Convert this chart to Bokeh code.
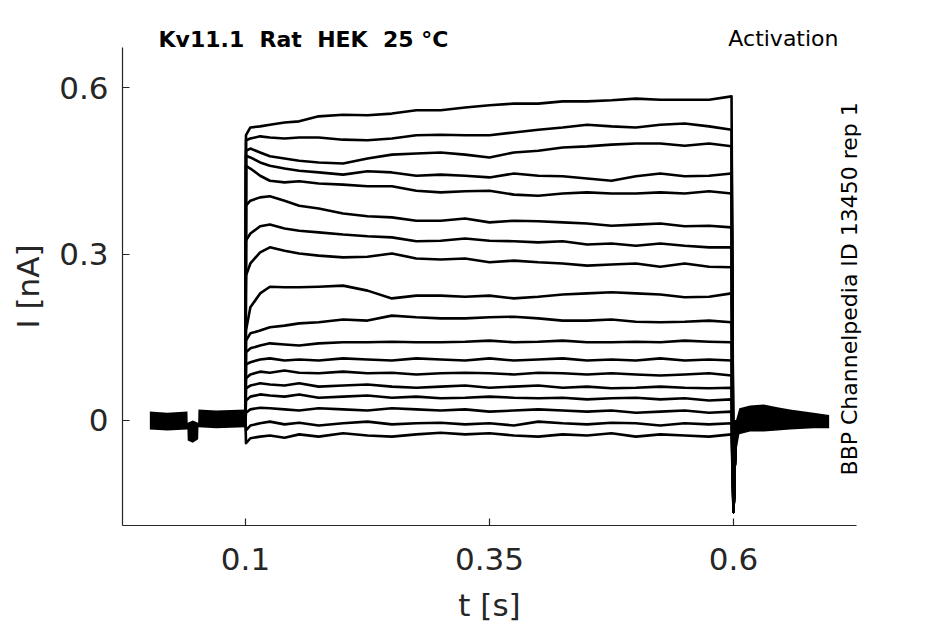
from bokeh.plotting import figure
from bokeh.models import Label, FixedTicker, Range1d
from bokeh.embed import file_html
from bokeh.resources import INLINE

FONT = "DejaVu Sans"
INK = "#262626"

# ---- data ----
T_ON = 0.1          # s, start of test pulse
T_OFF = 0.6         # s, end of test pulse
HOLD = 0.0          # nA, holding current
SPIKE = -0.165      # nA, capacitive transient at pulse end
TAIL_START = 0.6025
TAIL_START_VAL = 0.0

T_PULSE = [0.1005, 0.105, 0.115, 0.125, 0.14, 0.155, 0.175, 0.2, 0.225, 0.25,
           0.275, 0.3, 0.325, 0.35, 0.375, 0.4, 0.425, 0.45, 0.475, 0.5,
           0.525, 0.55, 0.575, 0.598]

trace_01 = [0.514, 0.528, 0.530, 0.533, 0.537, 0.539, 0.548, 0.551, 0.550, 0.553, 0.559, 0.559,
            0.564, 0.568, 0.571, 0.571, 0.575, 0.575, 0.577, 0.580, 0.578, 0.578, 0.578, 0.584]
trace_02 = [0.505, 0.508, 0.512, 0.510, 0.508, 0.510, 0.510, 0.506, 0.505, 0.508, 0.514, 0.515,
            0.514, 0.514, 0.519, 0.524, 0.528, 0.533, 0.530, 0.528, 0.533, 0.535, 0.530, 0.524]
trace_03 = [0.486, 0.490, 0.483, 0.476, 0.472, 0.468, 0.465, 0.463, 0.472, 0.479, 0.481, 0.483,
            0.479, 0.474, 0.483, 0.486, 0.492, 0.494, 0.497, 0.499, 0.499, 0.495, 0.499, 0.494]
trace_04 = [0.477, 0.474, 0.465, 0.459, 0.454, 0.450, 0.447, 0.443, 0.449, 0.447, 0.441, 0.443,
            0.441, 0.438, 0.445, 0.441, 0.440, 0.436, 0.432, 0.440, 0.445, 0.440, 0.441, 0.445]
trace_05 = [0.459, 0.454, 0.441, 0.432, 0.429, 0.431, 0.427, 0.425, 0.422, 0.422, 0.414, 0.411,
            0.413, 0.414, 0.407, 0.405, 0.409, 0.411, 0.409, 0.409, 0.411, 0.409, 0.413, 0.409]
trace_06 = [0.387, 0.396, 0.402, 0.404, 0.396, 0.387, 0.382, 0.373, 0.368, 0.366, 0.360, 0.360,
            0.364, 0.357, 0.360, 0.359, 0.357, 0.355, 0.351, 0.353, 0.355, 0.350, 0.351, 0.348]
trace_07 = [0.324, 0.337, 0.350, 0.353, 0.346, 0.342, 0.339, 0.335, 0.332, 0.330, 0.323, 0.324,
            0.328, 0.324, 0.323, 0.321, 0.323, 0.317, 0.319, 0.315, 0.319, 0.315, 0.312, 0.312]
trace_08 = [0.261, 0.283, 0.303, 0.312, 0.306, 0.301, 0.297, 0.294, 0.295, 0.301, 0.292, 0.290,
            0.292, 0.285, 0.288, 0.285, 0.283, 0.279, 0.281, 0.283, 0.277, 0.283, 0.277, 0.276]
trace_09 = [0.162, 0.204, 0.229, 0.241, 0.240, 0.240, 0.241, 0.243, 0.234, 0.220, 0.225, 0.225,
            0.223, 0.225, 0.220, 0.223, 0.227, 0.229, 0.231, 0.229, 0.227, 0.222, 0.223, 0.229]
trace_10 = [0.144, 0.157, 0.162, 0.168, 0.171, 0.175, 0.177, 0.182, 0.180, 0.189, 0.186, 0.184,
            0.184, 0.186, 0.187, 0.184, 0.180, 0.180, 0.182, 0.178, 0.177, 0.178, 0.180, 0.177]
trace_11 = [0.123, 0.130, 0.135, 0.139, 0.137, 0.135, 0.139, 0.141, 0.141, 0.142, 0.141, 0.141,
            0.142, 0.144, 0.141, 0.142, 0.144, 0.141, 0.141, 0.142, 0.141, 0.144, 0.142, 0.141]
trace_12 = [0.101, 0.105, 0.110, 0.112, 0.108, 0.110, 0.108, 0.112, 0.110, 0.108, 0.112, 0.110,
            0.108, 0.112, 0.108, 0.110, 0.112, 0.108, 0.110, 0.108, 0.112, 0.108, 0.110, 0.108]
trace_13 = [0.076, 0.083, 0.088, 0.086, 0.090, 0.086, 0.085, 0.088, 0.085, 0.086, 0.083, 0.085,
            0.086, 0.085, 0.083, 0.086, 0.085, 0.083, 0.085, 0.083, 0.081, 0.083, 0.085, 0.081]
trace_14 = [0.058, 0.063, 0.067, 0.065, 0.063, 0.067, 0.061, 0.063, 0.065, 0.061, 0.059, 0.061,
            0.063, 0.059, 0.061, 0.063, 0.059, 0.061, 0.058, 0.059, 0.061, 0.059, 0.058, 0.059]
trace_15 = [0.036, 0.043, 0.047, 0.045, 0.043, 0.047, 0.041, 0.043, 0.045, 0.041, 0.043, 0.040,
            0.041, 0.043, 0.041, 0.040, 0.041, 0.038, 0.040, 0.041, 0.038, 0.040, 0.036, 0.038]
trace_16 = [0.014, 0.020, 0.023, 0.022, 0.020, 0.018, 0.022, 0.020, 0.018, 0.022, 0.020, 0.018,
            0.020, 0.016, 0.018, 0.020, 0.018, 0.016, 0.018, 0.014, 0.016, 0.018, 0.014, 0.016]
trace_17 = [-0.018, -0.009, -0.005, -0.002, -0.007, -0.004, -0.009, -0.005, -0.002, -0.007, -0.005, -0.004,
            -0.007, -0.005, -0.009, -0.002, -0.005, -0.007, -0.004, -0.005, -0.009, -0.005, -0.007, -0.005]
trace_18 = [-0.041, -0.032, -0.029, -0.027, -0.031, -0.025, -0.029, -0.023, -0.027, -0.029, -0.025, -0.022,
            -0.025, -0.023, -0.027, -0.029, -0.025, -0.027, -0.023, -0.029, -0.025, -0.027, -0.029, -0.025]

TRACES = [trace_01, trace_02, trace_03, trace_04, trace_05, trace_06, trace_07, trace_08, trace_09,
          trace_10, trace_11, trace_12, trace_13, trace_14, trace_15, trace_16, trace_17, trace_18]

# noisy baseline before the pulse (envelope of all overlapping sweeps)
PRE_T = [0.002, 0.02, 0.0405, 0.0408, 0.046, 0.0515, 0.0518, 0.07, 0.1]
PRE_HI = [0.016, 0.014, 0.016, -0.004, 0.000, -0.004, 0.020, 0.018, 0.020]
PRE_LO = [-0.016, -0.018, -0.016, -0.036, -0.040, -0.034, -0.012, -0.014, -0.012]

# tail after the pulse (envelope of all overlapping sweeps)
TAIL_T = [0.6025, 0.606, 0.617, 0.631, 0.645, 0.658, 0.682, 0.698]
TAIL_HI = [0.000, 0.022, 0.027, 0.029, 0.024, 0.020, 0.014, 0.010]
TAIL_LO = [-0.060, -0.025, -0.020, -0.020, -0.018, -0.016, -0.014, -0.014]

# axis extents
X_AXIS = (-0.02602, 0.72602)
Y_AXIS = (-0.18919, 0.67207)
X_TICKS = [0.1, 0.35, 0.6]
X_TICK_LABELS = ["0.1", "0.35", "0.6"]
Y_TICKS = [0.0, 0.3, 0.6]
Y_TICK_LABELS = ["0", "0.3", "0.6"]

TITLE = "Kv11.1\u00a0 Rat\u00a0 HEK\u00a0 25 \u00b0C"
PROTOCOL = "Activation"
SOURCE = "BBP Channelpedia ID 13450 rep 1"

# ---- figure: the frame fills the whole canvas, axes are pinned inside it ----
p = figure(width=945, height=624,
           x_range=Range1d(-0.15102, 0.81722), y_range=Range1d(-0.36757, 0.75676),
           output_backend="svg", toolbar_location=None,
           min_border_left=0, min_border_right=0, min_border_top=0, min_border_bottom=0)
p.outline_line_color = None
p.xgrid.visible = False
p.ygrid.visible = False
p.background_fill_color = "white"
p.border_fill_color = "white"

# sweeps
xs, ys = [], []
for tr in TRACES:
    xs.append([T_ON] + T_PULSE + [T_OFF, TAIL_START])
    ys.append([HOLD] + tr + [SPIKE, TAIL_START_VAL])
p.multi_line(xs=xs, ys=ys, line_color="black", line_width=2.6, line_join="round")

p.varea(x=PRE_T, y1=PRE_LO, y2=PRE_HI, fill_color="black")
p.varea(x=TAIL_T, y1=TAIL_LO, y2=TAIL_HI, fill_color="black")

# axes
for ax in (p.xaxis, p.yaxis):
    ax.major_tick_in = 7
    ax.major_tick_out = 0
    ax.minor_tick_line_color = None
    ax.axis_line_color = INK
    ax.axis_line_width = 1.2
    ax.major_tick_line_color = INK
    ax.major_tick_line_width = 1.2
    ax.major_label_text_font = FONT
    ax.major_label_text_font_size = "31px"
    ax.major_label_text_color = INK
    ax.axis_label_text_font = FONT
    ax.axis_label_text_font_size = "31px"
    ax.axis_label_text_font_style = "normal"
    ax.axis_label_text_color = INK

p.xaxis.fixed_location = Y_AXIS[0]
p.xaxis.bounds = X_AXIS
p.yaxis.fixed_location = X_AXIS[0]
p.yaxis.bounds = Y_AXIS

p.xaxis.ticker = FixedTicker(ticks=X_TICKS)
p.xaxis.major_label_overrides = {t: l for t, l in zip(X_TICKS, X_TICK_LABELS)}
p.yaxis.ticker = FixedTicker(ticks=Y_TICKS)
p.yaxis.major_label_overrides = {t: l for t, l in zip(Y_TICKS, Y_TICK_LABELS)}
p.xaxis.axis_label = "t [s]"
p.yaxis.axis_label = "I [nA]"
p.xaxis.major_label_standoff = 23
p.yaxis.major_label_standoff = 14
p.xaxis.axis_label_standoff = 13
p.yaxis.axis_label_standoff = 10

# annotations
p.add_layout(Label(x=0.0109, y=0.687, text=TITLE, text_font=FONT, text_font_size="22px",
                   text_font_style="bold", text_color="black", text_baseline="alphabetic",
                   text_align="left"))
p.add_layout(Label(x=0.7076, y=0.688, text=PROTOCOL, text_font=FONT, text_font_size="22px",
                   text_color="black", text_baseline="alphabetic", text_align="right"))
p.add_layout(Label(x=0.7188, y=-0.099, text=SOURCE, text_font=FONT, text_font_size="22px",
                   text_color="black", text_baseline="alphabetic", text_align="left",
                   angle=1.5707963267948966))

open("out.html", "w").write(file_html(p, INLINE))
